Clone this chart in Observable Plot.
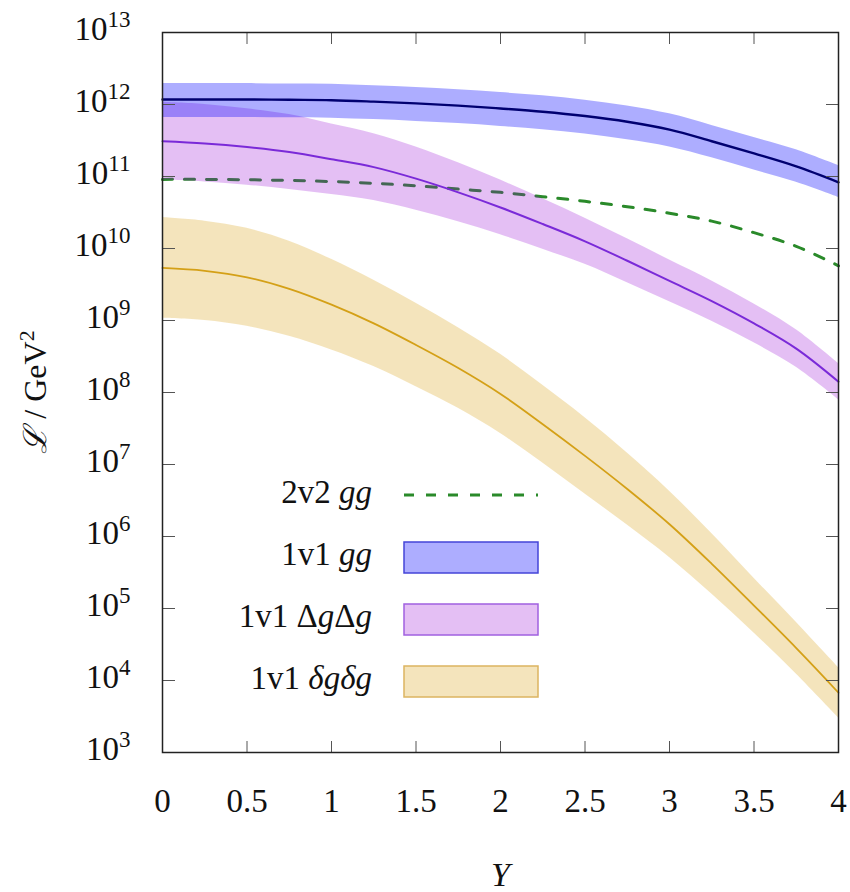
<!DOCTYPE html>
<html><head><meta charset="utf-8">
<script src="https://cdn.jsdelivr.net/npm/d3@7"></script>
<script src="https://cdn.jsdelivr.net/npm/@observablehq/plot@0.6"></script>
<style>body{margin:0;background:#fff} #chart{width:850px;height:892px}</style>
</head><body><div id="chart"></div>
<script>
// Rapidity values Y
const Yvals = [0,0.25,0.5,0.75,1,1.25,1.5,1.75,2,2.25,2.5,2.75,3,3.25,3.5,3.75,4];
// Values, stored as log10(L / GeV^2)
const gg1v1Central = [12.07,12.07,12.07,12.065,12.06,12.04,12.015,11.985,11.945,11.90,11.84,11.76,11.65,11.49,11.32,11.14,10.92];
const gg1v1High    = [12.29,12.29,12.29,12.285,12.28,12.26,12.235,12.205,12.165,12.12,12.06,11.98,11.87,11.71,11.54,11.37,11.15];
const gg1v1Low     = [11.82,11.82,11.82,11.815,11.81,11.79,11.765,11.735,11.695,11.65,11.59,11.51,11.41,11.26,11.09,10.92,10.71];
const dgdg1v1Central = [11.49,11.46,11.41,11.34,11.24,11.13,10.97,10.78,10.57,10.34,10.10,9.83,9.55,9.27,8.96,8.61,8.15];
const dgdg1v1High    = [12.03,12.00,11.94,11.86,11.73,11.595,11.41,11.19,10.95,10.69,10.42,10.135,9.84,9.55,9.23,8.87,8.40];
const dgdg1v1Low     = [10.95,10.925,10.88,10.82,10.75,10.665,10.53,10.37,10.19,9.99,9.78,9.525,9.26,8.99,8.69,8.35,7.90];
const tgtg1v1Central = [9.73,9.69,9.60,9.44,9.22,8.96,8.66,8.34,7.98,7.56,7.12,6.66,6.17,5.62,5.04,4.45,3.83];
const tgtg1v1High    = [10.43,10.38,10.28,10.10,9.85,9.56,9.24,8.90,8.53,8.10,7.65,7.16,6.63,6.04,5.42,4.81,4.18];
const tgtg1v1Low     = [9.03,9.00,8.92,8.78,8.59,8.36,8.08,7.78,7.43,7.02,6.59,6.16,5.71,5.20,4.66,4.09,3.48];
const gg2v2 = [10.96,10.96,10.955,10.945,10.93,10.905,10.87,10.825,10.78,10.72,10.655,10.58,10.49,10.38,10.22,10.03,9.76];

const xTicks = [0,0.5,1,1.5,2,2.5,3,3.5,4];
const xTickLabels = ["0","0.5","1","1.5","2","2.5","3","3.5","4"];
const yExponents = [3,4,5,6,7,8,9,10,11,12,13];
const yTicks = yExponents.map(e => 10 ** e);

const legendLabels = ["2v2 gg","1v1 gg","1v1 ΔgΔg","1v1 δgδg"];

const rows = Yvals.map((y, i) => ({
  Y: y,
  bc: 10 ** gg1v1Central[i], bh: 10 ** gg1v1High[i], bl: 10 ** gg1v1Low[i],
  pc: 10 ** dgdg1v1Central[i], ph: 10 ** dgdg1v1High[i], pl: 10 ** dgdg1v1Low[i],
  yc: 10 ** tgtg1v1Central[i], yh: 10 ** tgtg1v1High[i], yl: 10 ** tgtg1v1Low[i],
  g: 10 ** gg2v2[i]
}));

const font = "'Liberation Serif','DejaVu Serif',serif";
const curve = "catmull-rom";
const tickCol = "#555";

const chart = Plot.plot({
  width: 850, height: 892,
  marginLeft: 162, marginRight: 12, marginTop: 32, marginBottom: 140,
  style: {fontFamily: font, background: "#fff", color: "#111"},
  x: {domain: [0, 4], label: null},
  y: {type: "log", domain: [1e3, 1e13], label: null},
  marks: [
    Plot.line(rows, {x: "Y", y: "g", stroke: "#2a8a2a", strokeWidth: 3, strokeDasharray: "10,12", curve}),
    Plot.areaY(rows, {x: "Y", y1: "yl", y2: "yh", fill: "#daa520", fillOpacity: 0.3, curve}),
    Plot.areaY(rows, {x: "Y", y1: "pl", y2: "ph", fill: "#9400d3", fillOpacity: 0.25, curve}),
    Plot.areaY(rows, {x: "Y", y1: "bl", y2: "bh", fill: "#0000ff", fillOpacity: 0.32, curve}),
    Plot.line(rows, {x: "Y", y: "yc", stroke: "#d4a017", strokeWidth: 1.8, curve}),
    Plot.line(rows, {x: "Y", y: "pc", stroke: "#7a2ad8", strokeWidth: 2, curve}),
    Plot.line(rows, {x: "Y", y: "bc", stroke: "#000070", strokeWidth: 2.4, curve}),
    Plot.axisY({ticks: yTicks, anchor: "left", tickSize: 0, tickPadding: 32, fontSize: 33, dy: -3,
      tickFormat: d => String(Math.round(Math.log10(d))), label: null}),
    Plot.axisY({ticks: yTicks, anchor: "right", frameAnchor: "left", tickSize: 12, fill: "none", stroke: tickCol, label: null}),
    Plot.axisY({ticks: yTicks, anchor: "left", frameAnchor: "right", tickSize: 12, fill: "none", stroke: tickCol, label: null}),
    Plot.axisX({ticks: xTicks, anchor: "bottom", tickSize: 0, tickPadding: 36, fontSize: 33,
      tickFormat: d => xTickLabels[xTicks.indexOf(d)], label: null}),
    Plot.axisX({ticks: xTicks, anchor: "top", frameAnchor: "bottom", tickSize: 12, fill: "none", stroke: tickCol, label: null}),
    Plot.axisX({ticks: xTicks, anchor: "bottom", frameAnchor: "top", tickSize: 12, fill: "none", stroke: tickCol, label: null}),
    Plot.frame({stroke: "#222", strokeWidth: 1.5}),
    Plot.text(["Y"], {text: d => d, frameAnchor: "bottom", dy: 123, fontSize: 34, fontStyle: "italic", lineAnchor: "middle"})
  ]
});
document.getElementById("chart").appendChild(chart);

const svg = d3.select(chart);

// superscript exponents on y tick labels
svg.selectAll('g[aria-label="y-axis tick label"] text').each(function() {
  const e = this.textContent;
  const t = d3.select(this);
  t.text(null);
  t.append("tspan").text("10");
  t.append("tspan").attr("font-size", 23).attr("dy", -13).text(e);
});

// y-axis title
const yt = svg.append("text")
  .attr("transform", "translate(46,392) rotate(-90)")
  .attr("text-anchor", "middle")
  .attr("font-family", font).attr("font-size", 32).attr("fill", "#111");
yt.append("tspan").attr("font-family", "'DejaVu Serif',serif").attr("font-style", "italic").text("ℒ");
yt.append("tspan").text(" / GeV");
yt.append("tspan").attr("font-size", 22).attr("dy", -12).text("2");

// legend inside the plot area
const lg = svg.append("g").attr("font-family", font).attr("font-size", 33).attr("fill", "#111");
const rowsY = [503, 565, 627, 689];
const parts = [
  [["2v2 ", false], ["gg", true]],
  [["1v1 ", false], ["gg", true]],
  [["1v1 Δ", false], ["g", true], ["Δ", false], ["g", true]],
  [["1v1 ", false], ["δgδg", true]]
];
parts.forEach((p, i) => {
  const t = lg.append("text").attr("x", 372).attr("y", rowsY[i]).attr("text-anchor", "end");
  p.forEach(([s, it]) => t.append("tspan").attr("font-style", it ? "italic" : "normal").text(s));
});
lg.append("line").attr("x1", 404).attr("x2", 538).attr("y1", 495).attr("y2", 495)
  .attr("stroke", "#2a8a2a").attr("stroke-width", 3).attr("stroke-dasharray", "10,12");
const sw = [
  {y: 542, fill: "#0000ff", fo: 0.32, stroke: "#4444d8"},
  {y: 604, fill: "#9400d3", fo: 0.25, stroke: "#a060e0"},
  {y: 666, fill: "#daa520", fo: 0.3, stroke: "#dcb460"}
];
sw.forEach(s => lg.append("rect").attr("x", 404).attr("y", s.y).attr("width", 134).attr("height", 31)
  .attr("fill", s.fill).attr("fill-opacity", s.fo).attr("stroke", s.stroke).attr("stroke-width", 1.5));
</script></body></html>
